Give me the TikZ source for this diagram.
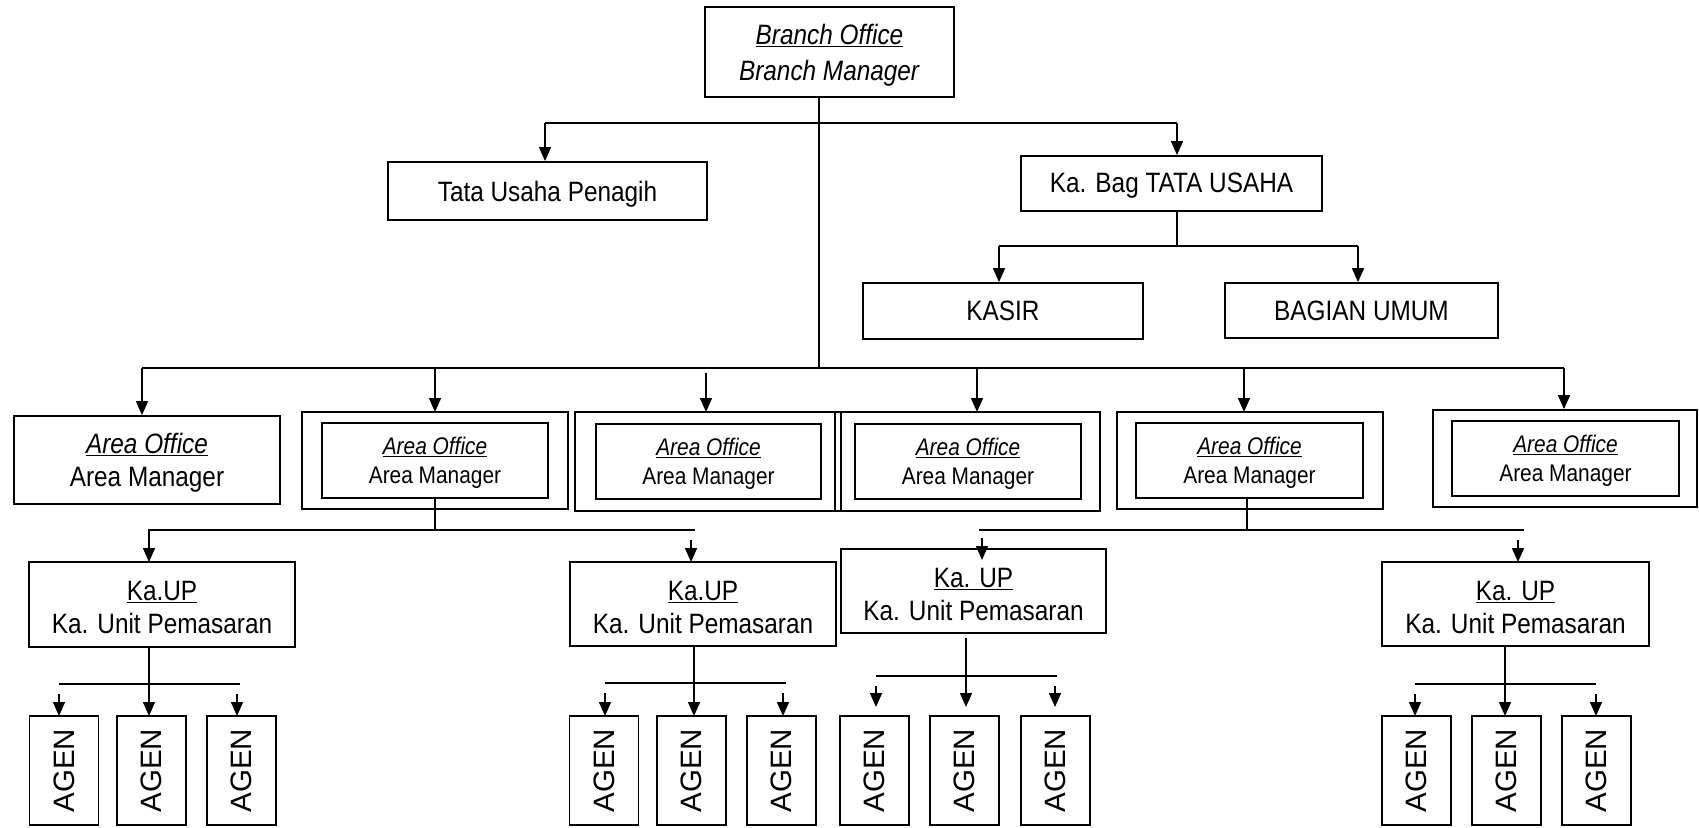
\documentclass[tikz,border=0pt]{standalone}
\usepackage{fontspec}
\setmainfont{Liberation Sans}[FakeStretch=0.87]
\newfontfamily\agenfont{Liberation Sans}
\usetikzlibrary{arrows.meta}
\newcommand{\bigtxt}{\fontsize{28}{33}\selectfont}
\newcommand{\smtxt}{\fontsize{24}{28.5}\selectfont}
\newcommand{\bst}{\rule{0pt}{26pt}}
\newcommand{\sst}{\rule{0pt}{21.5pt}}
\tikzset{
  box/.style={draw, line width=1.8pt, rectangle, inner sep=0pt, align=center, font=\bigtxt},
  sbox/.style={draw, line width=1.6pt, rectangle, inner sep=0pt, align=center, font=\smtxt},
  agenbox/.style={draw, line width=1.8pt, rectangle, inner sep=0pt, minimum width=69pt, minimum height=109pt},
  ln/.style={line width=1.6pt},
  arr/.style={line width=1.6pt, -{Triangle[length=14pt,width=12pt]}},
}
\newcommand{\agentxt}{\rotatebox{90}{\agenfont\fontsize{29.5}{29.5}\selectfont AGEN}}
\begin{document}
\begin{tikzpicture}[x=1pt,y=-1pt]
\useasboundingbox (0,0) rectangle (1699,827);
% top
\node[box, minimum width=249pt, minimum height=90pt] (branch) at (829.5,52) {\bst\underline{\textit{Branch Office}}\\[3pt] \textit{Branch Manager}};
\node[box, minimum width=319pt, minimum height=58pt] (tata) at (547.5,191) {\bst Tata Usaha Penagih};
\node[box, minimum width=301pt, minimum height=55pt] (kabag) at (1171.5,183.5) {\rule{0pt}{24pt}Ka. Bag TATA USAHA};
\node[box, minimum width=280pt, minimum height=56pt] (kasir) at (1003,311) {KASIR};
\node[box, minimum width=273pt, minimum height=55pt] (bagian) at (1361.5,310.5) {BAGIAN UMUM};
% area offices
\node[box, minimum width=266pt, minimum height=88pt] (a1) at (147,460) {\bst\underline{\textit{Area Office}}\\ Area Manager};
\node[box, minimum width=266pt, minimum height=97pt] (a2o) at (435,460.5) {};
\node[sbox, minimum width=226pt, minimum height=75pt] (a2) at (435,460.5) {\sst\underline{\textit{Area Office}}\\ Area Manager};
\node[box, minimum width=266pt, minimum height=99pt] (a3o) at (708,461.5) {};
\node[sbox, minimum width=225pt, minimum height=75pt] (a3) at (708.5,461.5) {\sst\underline{\textit{Area Office}}\\ Area Manager};
\node[box, minimum width=265pt, minimum height=99pt] (a4o) at (967.5,461.5) {};
\node[sbox, minimum width=226pt, minimum height=75pt] (a4) at (968,461.5) {\sst\underline{\textit{Area Office}}\\ Area Manager};
\node[box, minimum width=266pt, minimum height=97pt] (a5o) at (1250,460.5) {};
\node[sbox, minimum width=227pt, minimum height=75pt] (a5) at (1249.5,460.5) {\sst\underline{\textit{Area Office}}\\ Area Manager};
\node[box, minimum width=264pt, minimum height=97pt] (a6o) at (1565,458.5) {};
\node[sbox, minimum width=227pt, minimum height=75pt] (a6) at (1565.5,458.5) {\sst\underline{\textit{Area Office}}\\ Area Manager};
% unit pemasaran
\node[box, minimum width=266pt, minimum height=85pt] (u1) at (162,604.5) {\bst\underline{Ka.UP}\\ Ka. Unit Pemasaran};
\node[box, minimum width=266pt, minimum height=84pt] (u2) at (703,604) {\bst\underline{Ka.UP}\\ Ka. Unit Pemasaran};
\node[box, minimum width=265pt, minimum height=84pt] (u3) at (973.5,591) {\bst\underline{Ka. UP}\\ Ka. Unit Pemasaran};
\node[box, minimum width=267pt, minimum height=84pt] (u4) at (1515.5,604) {\bst\underline{Ka. UP}\\ Ka. Unit Pemasaran};
% agen
\node[agenbox] (g1) at (64,770.5) {\agentxt};
\node[agenbox] (g2) at (151.5,770.5) {\agentxt};
\node[agenbox] (g3) at (241.5,770.5) {\agentxt};
\node[agenbox] (g4) at (604,770.5) {\agentxt};
\node[agenbox] (g5) at (691.5,770.5) {\agentxt};
\node[agenbox] (g6) at (781.5,770.5) {\agentxt};
\node[agenbox] (g7) at (874.5,770.5) {\agentxt};
\node[agenbox] (g8) at (964.5,770.5) {\agentxt};
\node[agenbox] (g9) at (1055.5,770.5) {\agentxt};
\node[agenbox] (g10) at (1416.5,770.5) {\agentxt};
\node[agenbox] (g11) at (1506.5,770.5) {\agentxt};
\node[agenbox] (g12) at (1596.5,770.5) {\agentxt};
% coordinates
\coordinate (trT) at (819,97);
\coordinate (trB) at (819,368);
\coordinate (h1L) at (545,123);
\coordinate (h1R) at (1177,123);
\coordinate (kbS) at (1177,211);
\coordinate (h2L) at (999,246);
\coordinate (h2R) at (1358,246);
\coordinate (h3L) at (142,368);
\coordinate (h3R) at (1564,368);
% trunk
\draw[ln] (trT) -- (trB);
\draw[ln] (h1L) -- (h1R);
\draw[arr] (h1L) -- (h1L |- tata.north);
\draw[arr] (h1R) -- (h1R |- kabag.north);
\draw[ln] (kbS) -- (kbS |- h2L);
\draw[ln] (h2L) -- (h2R);
\draw[arr] (h2L) -- (h2L |- kasir.north);
\draw[arr] (h2R) -- (h2R |- bagian.north);
\draw[ln] (h3L) -- (h3R);
\draw[arr] (h3L) -- (h3L |- a1.north);
\draw[arr] (435,368) -- (435,412);
\draw[arr] (706,373) -- (706,412);
\draw[arr] (977,368) -- (977,412);
\draw[arr] (1244,368) -- (1244,412);
\draw[arr] (h3R) -- (h3R |- a6o.north);
% left group
\coordinate (lgL) at (148,530);
\coordinate (lgR) at (695,530);
\draw[ln] (a2.south) -- (a2.south |- lgL);
\draw[ln] (lgL) -- (lgR);
\draw[arr] (149,530) -- (149,562);
\draw[arr] (691,540) -- (691,562);
% right group
\coordinate (rgL) at (979,530);
\coordinate (rgR) at (1524,530);
\draw[ln] (1247,497) -- (1247,530);
\draw[ln] (rgL) -- (rgR);
\draw[arr] (982,538) -- (982,560);
\draw[arr] (1518,540) -- (1518,562);
% agen group 1
\draw[arr] (149,647) -- (149,716);
\draw[ln] (59,684) -- (240,684);
\draw[arr] (59,694) -- (59,716);
\draw[arr] (237,694) -- (237,716);
% agen group 2
\draw[arr] (694,646) -- (694,716);
\draw[ln] (605,683) -- (786,683);
\draw[arr] (605,693) -- (605,716);
\draw[arr] (783,693) -- (783,716);
% agen group 3
\draw[arr] (966,638) -- (966,707);
\draw[ln] (876,676) -- (1057,676);
\draw[arr] (876,686) -- (876,707);
\draw[arr] (1055,686) -- (1055,707);
% agen group 4
\draw[arr] (1505,646) -- (1505,716);
\draw[ln] (1415,684) -- (1596,684);
\draw[arr] (1415,694) -- (1415,716);
\draw[arr] (1596,694) -- (1596,716);
\end{tikzpicture}
\end{document}
